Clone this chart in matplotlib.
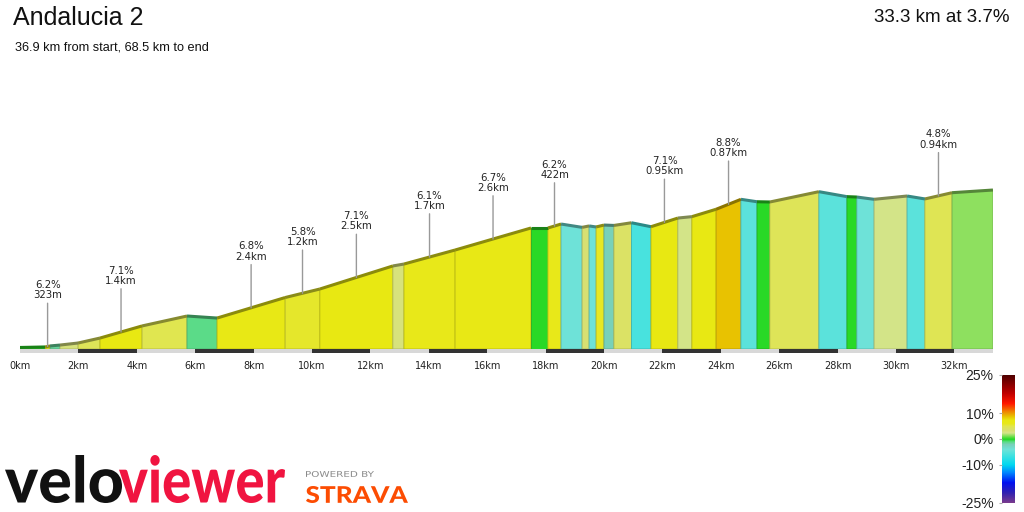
import matplotlib
matplotlib.use('Agg')
import matplotlib.pyplot as plt
import numpy as np
from matplotlib.colors import LinearSegmentedColormap, Normalize, to_rgb
from matplotlib.cm import ScalarMappable
from matplotlib.textpath import TextPath
from matplotlib.patches import PathPatch
from matplotlib.font_manager import FontProperties
from matplotlib.transforms import Affine2D

plt.rcParams['font.family'] = ['Liberation Sans', 'DejaVu Sans']

title = 'Andalucia 2'
subtitle = '36.9 km from start, 68.5 km to end'
summary = '33.3 km at 3.7%'

# segment boundaries (km) and elevation (m) along the climb
dist_km = [0.00, 0.86, 1.03, 1.37, 1.99, 2.74, 4.18, 5.72, 6.75, 9.08, 10.27,
           12.77, 13.15, 14.90, 17.50, 18.08, 18.53, 19.25, 19.49, 19.73, 20.00,
           20.34, 20.94, 21.61, 22.53, 23.01, 23.84, 24.69, 25.24, 25.68, 27.36,
           28.32, 28.66, 29.25, 30.38, 30.99, 31.92, 33.32]
elev_m = [212, 216, 224, 231, 247, 286, 381, 459, 443, 604, 671,
          852, 867, 977, 1150, 1150, 1181, 1155, 1166, 1158, 1173,
          1170, 1191, 1160, 1228, 1239, 1297, 1375, 1356, 1354, 1435,
          1396, 1393, 1375, 1401, 1378, 1427, 1448]
# gradient of each segment (%)
seg_grade = [0, 6.2, -1.5, 3, 4.5, 7.1, 5, -1, 6.8, 5.8, 7.1, 3, 6.1, 6.7, 0,
             6.2, -4, 3.5, -4, 6, -2, 4, -6, 7.1, 2.5, 7, 8.8, -5, 0, 4.5, -5,
             0, -4, 2.5, -5, 4.8, 1.5]

# labelled climbs: segment index, gradient, length
climb_seg = [1, 5, 8, 9, 10, 12, 13, 15, 23, 26, 35]
climb_grade = [6.2, 7.1, 6.8, 5.8, 7.1, 6.1, 6.7, 6.2, 7.1, 8.8, 4.8]
climb_len = ['323m', '1.4km', '2.4km', '1.2km', '2.5km', '1.7km', '2.6km',
             '422m', '0.95km', '0.87km', '0.94km']

tick_km = list(range(0, 33, 2))
cbar_ticks = [25, 10, 0, -10, -25]

grade_stops = [(-25, '#7b3b8c'), (-21, '#3020b0'), (-17, '#0010f0'), (-13, '#0088ff'),
               (-10, '#00d8f0'), (-6, '#48e2de'), (-4, '#6ee2d8'), (-2, '#78d0b8'),
               (-1, '#58dc84'), (0, '#22d822'), (1.5, '#90e060'), (2.5, '#d6e48a'),
               (3.5, '#d8e070'), (5, '#e0e650'), (6.2, '#e8e818'), (7.5, '#e8e810'),
               (9, '#e8c000'), (11, '#f08000'), (14, '#ff1800'), (18, '#c00000'),
               (25, '#500000')]
cmap = LinearSegmentedColormap.from_list(
    'grade', [((g + 25) / 50, c) for g, c in grade_stops])
norm = Normalize(-25, 25)

W, H = 1024, 512
fig = plt.figure(figsize=(W / 100, H / 100), dpi=100)

# profile axes: 29.2 px per km, 7.85 m per px, ground at pixel row 349
px_km = 29.2
m_px = 7.85
base = 200
x0_px, y_ground = 20, 349
y_bot, y_top = 353, 100
total = dist_km[-1]
ax = fig.add_axes([x0_px / W, (H - y_bot) / H, total * px_km / W, (y_bot - y_top) / H])
ax.set_xlim(0, total)
ax.set_ylim(base - (y_bot - y_ground) * m_px, base + (y_ground - y_top) * m_px)
ax.axis('off')

d = np.array(dist_km)
e = np.array(elev_m)
for i, g in enumerate(seg_grade):
    c = np.array(to_rgb(cmap(norm(g))))
    xs = [d[i], d[i], d[i + 1], d[i + 1]]
    ys = [base, e[i], e[i + 1], base]
    ax.fill(xs, ys, color=c, ec=c * 0.8, lw=0.6, zorder=2)
    ax.plot([d[i], d[i + 1]], [e[i], e[i + 1]], color=c * 0.6, lw=2.2,
            solid_capstyle='butt', zorder=3)

# ground bar, alternating every 2 km
bar_h = (y_bot - y_ground) * m_px
for k in range(0, int(np.ceil(total)), 2):
    col = '#d8d8d8' if (k // 2) % 2 == 0 else '#333333'
    ax.broken_barh([(k, min(2, total - k))], (base - bar_h, bar_h * 0.9),
                   facecolors=col, zorder=2)

label_font = ['DejaVu Sans']
tick_y = base - (366 - y_ground) * m_px
for k in tick_km:
    ax.text(k, tick_y, f'{k}km', ha='center', va='center', fontsize=7,
            color='#222222', family=label_font, clip_on=False)

# climb labels
for s, g, ln in zip(climb_seg, climb_grade, climb_len):
    xm = (d[s] + d[s + 1]) / 2
    ym = np.interp(xm, d, e)
    ax.annotate(f'{g}%\n{ln}', xy=(xm, ym), xytext=(0, 46), textcoords='offset pixels',
                ha='center', va='bottom', fontsize=7.3, linespacing=1.05, color='#222222',
                family=label_font,
                arrowprops=dict(arrowstyle='-', color='#999999', lw=1, shrinkA=0, shrinkB=0),
                zorder=4)

# texts
fig.text(13 / W, 1 - 18 / H, title, fontsize=18, va='center', ha='left', color='#111111')
fig.text(15 / W, 1 - 48 / H, subtitle, fontsize=9.2, va='center', ha='left', color='#111111')
fig.text(1010 / W, 1 - 18 / H, summary, fontsize=13.5, va='center', ha='right', color='#111111')

# colour scale
cax = fig.add_axes([1002 / W, (H - 503) / H, 13 / W, 128 / H])
cb = fig.colorbar(ScalarMappable(norm=norm, cmap=cmap), cax=cax, ticks=cbar_ticks)
cb.outline.set_visible(False)
cax.yaxis.set_ticks_position('left')
cax.set_yticklabels([f'{t}%' for t in cbar_ticks])
cax.tick_params(length=2, color='#aaaaaa', pad=4, labelsize=10, labelcolor='#222222')

# logos
lax = fig.add_axes([0, 0, 1, 1])
lax.set_xlim(0, W)
lax.set_ylim(0, H)
lax.axis('off')
lax.set_zorder(-1)

heavy = FontProperties(family=['Lato', 'DejaVu Sans'], weight='black')
bold = FontProperties(family='DejaVu Sans', weight='bold')


def logo_text(s, box, color, prop=bold):
    tp = TextPath((0, 0), s, size=1, prop=prop)
    ext = tp.get_extents()
    bx0, by0, bx1, by1 = box
    tr = (Affine2D().translate(-ext.x0, -ext.y0)
          .scale((bx1 - bx0) / ext.width, (by1 - by0) / ext.height)
          .translate(bx0, H - by1))
    lax.add_patch(PathPatch(tr.transform_path(tp), fc=color, lw=0))


logo_text('velo', (5, 455, 122, 503), '#111111', heavy)
logo_text('viewer', (119, 455, 285, 503), '#f01440', heavy)
logo_text('POWERED BY', (306, 471, 374, 477), '#8a8a8a',
          FontProperties(family='DejaVu Sans'))
logo_text('STRAVA', (306, 486, 408, 503), '#fc4c02', heavy)

fig.savefig('out.png', dpi=100)
